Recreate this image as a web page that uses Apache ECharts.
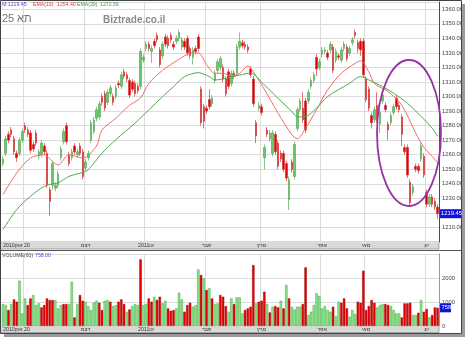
<!DOCTYPE html>
<html><head><meta charset="utf-8">
<script src="https://cdn.jsdelivr.net/npm/echarts@6/dist/echarts.min.js"></script>
<style>html,body{margin:0;padding:0;background:#fff}#c{width:467px;height:340px}</style>
</head><body><div id="c"></div>
<script>
// ---- data ----
// month tick labels: parts listed left to right as they appear on screen
const monthLabels = [['2010', 'אוק', ' 20'], ['נוב'], ['דצמ'], ['2011', 'ינו'], ['פבר'], ['מרץ'], ['אפר'], ['מאי'], ['יונ']];
const monthDays = [8, 22, 22, 22, 20, 22, 16, 22, 5];

const opens = [1254,1261,1274,1277,1271,1261,1261,1270,1280,1277,1275,1267,1275,1259,1260,1266,1261,1236,1239,1237,
1239,1258,1269,1280,1260,1258,1266,1260,1266,1262,1251,1258,1270,1276,1285,1286,1300,1302,1296,1302,
1300,1300,1309,1307,1317,1315,1311,1310,1309,1307,1307,1325,1333,1336,1331,1338,1342,1332,1328,1341,
1340,1342,1336,1338,1340,1334,1338,1340,1333,1327,1333,1341,1305,1293,1292,1298,1295,1311,1318,1320,
1320,1312,1317,1309,1316,1316,1334,1337,1336,1334,1319,1312,1282,1292,1293,1258,1277,1271,1261,1274,
1268,1261,1261,1254,1229,1255,1245,1278,1291,1292,1297,1297,1307,1311,1327,1320,1329,1331,1330,1332,
1334,1325,1328,1325,1333,1334,1330,1337,1344,1337,1338,1338,1312,1305,1287,1284,1294,1281,1297,1294,
1281,1282,1289,1299,1294,1286,1265,1265,1241,1234,1252,1252,1257,1259,1234,1226,1231,1228,1224];
const closes = [1257,1271,1270,1274,1262,1258,1270,1276,1277,1274,1263,1264,1268,1262,1268,1262,1239,1228,1254,1239,
1247,1264,1276,1269,1254,1262,1262,1262,1261,1245,1255,1261,1282,1284,1291,1295,1296,1292,1303,1306,
1296,1306,1308,1315,1314,1312,1301,1305,1302,1304,1331,1327,1336,1333,1333,1335,1339,1322,1336,1336,
1335,1339,1334,1340,1344,1339,1334,1330,1328,1332,1331,1333,1282,1283,1290,1293,1299,1316,1324,1326,
1312,1302,1307,1316,1314,1334,1338,1335,1334,1332,1315,1295,1273,1294,1289,1265,1274,1275,1275,1262,
1252,1257,1250,1244,1243,1250,1267,1291,1297,1284,1277,1303,1311,1315,1319,1324,1332,1332,1327,1336,
1318,1331,1327,1332,1336,1326,1333,1339,1342,1333,1332,1315,1298,1292,1282,1291,1284,1289,1301,1291,
1277,1287,1293,1293,1291,1274,1262,1246,1227,1238,1250,1249,1266,1246,1226,1231,1226,1224,1219.45];
const highs = [1259,1273,1276,1279,1273,1263,1272,1278,1282,1279,1277,1269,1277,1264,1270,1268,1263,1238,1256,1241,
1249,1266,1278,1282,1262,1264,1268,1264,1268,1264,1257,1263,1284,1286,1293,1297,1302,1304,1305,1308,
1302,1308,1311,1317,1319,1317,1313,1312,1311,1309,1333,1329,1338,1338,1335,1340,1344,1334,1338,1343,
1342,1344,1338,1342,1346,1341,1340,1342,1335,1334,1335,1343,1307,1295,1294,1305,1301,1318,1326,1328,
1322,1314,1319,1318,1318,1336,1344,1339,1338,1336,1321,1314,1284,1296,1295,1267,1279,1277,1277,1276,
1270,1263,1263,1256,1245,1257,1269,1293,1299,1303,1299,1305,1313,1317,1329,1326,1334,1334,1332,1338,
1336,1333,1330,1334,1338,1336,1335,1341,1346,1339,1340,1340,1314,1307,1289,1293,1303,1291,1303,1296,
1283,1289,1295,1301,1296,1288,1267,1267,1243,1240,1254,1254,1268,1261,1236,1233,1233,1230,1226];
const lows = [1252,1259,1268,1272,1260,1255,1259,1268,1275,1272,1261,1262,1266,1257,1258,1260,1237,1218,1236,1235,
1237,1256,1267,1267,1252,1256,1260,1258,1259,1243,1249,1256,1268,1274,1283,1284,1294,1290,1294,1300,
1294,1298,1306,1305,1312,1310,1299,1303,1300,1302,1305,1323,1331,1331,1323,1333,1337,1320,1326,1334,
1333,1337,1332,1336,1338,1332,1332,1328,1326,1322,1329,1331,1280,1278,1288,1291,1293,1309,1316,1318,
1310,1300,1305,1307,1312,1314,1332,1333,1332,1330,1313,1293,1268,1290,1287,1250,1272,1269,1259,1260,
1250,1255,1248,1242,1222,1248,1243,1276,1289,1282,1275,1295,1305,1309,1314,1318,1327,1329,1325,1330,
1316,1323,1325,1323,1331,1324,1328,1335,1340,1330,1328,1313,1296,1290,1278,1282,1282,1275,1295,1289,
1270,1280,1287,1291,1289,1266,1260,1244,1225,1232,1248,1247,1255,1244,1224,1224,1224,1222,1216];

const volumes = [914,873,664,914,1109,1012,1887,525,1150,873,1150,1290,873,942,775,873,1150,1081,1081,
1081,734,873,914,914,914,1846,358,914,1290,1053,1012,831,664,970,1053,970,664,1053,1081,1012,831,873,1012,1109,914,
595,692,831,914,873,2777,873,914,1150,1012,1220,1081,1220,942,1053,734,636,664,734,1387,1109,595,873,970,803,873,
2360,2124,1985,1498,1568,1150,914,942,1290,1220,831,594,1150,914,1192,1192,
525,664,734,803,2540,942,1012,1053,1429,914,567,803,831,775,1053,734,1707,1150,803,692,803,803,914,2443,
456,595,873,1359,1248,734,831,664,595,803,414,1012,970,1150,734,386,664,497,1012,970,2304,664,831,1081,970,
775,873,914,914,873,831,664,525,525,358,942,942,970,456,456,553,1081,595,706,358,456,775,758];
const volumeSide = ('GGRGRRGGGRRGGGRRRRR' + 'GGGRRGGRGRRGGGGGRRGGRGGRRR' +
  'GRGGGRGGRRGRRGGRRRGGGRRRGGGRGRGRGGRRRGGRGG' +
  'GRRRRGRRRG' + 'RGRRGRGRGG' + 'GGRRGGGGGG' + 'GGGRGGRRRG' + 'GGRRRRRRRG' + 'GGRRGGGGRR' + 'RRGGRGRRGR' + 'RR').split('');

const ema19Idx = [0,5,10,15,18,20,24,29,34,36,41,46,50,53,58,64,68,71,74,77,80,83,86,89,91,95,100,105,107,110,114,118,123,128,130,133,135,140,145,150,153,156,158];
const ema19 = [1232.6,1247.5,1257.7,1260,1255.4,1253,1260,1257.7,1266,1277,1285,1294,1299,1309,1318,1325.6,1329.7,1330,1322,1316,1316,1314,1316,1321,1317,1305,1288.6,1273.7,1271,1278.3,1291,1304.6,1316,1322.8,1324.6,1317,1309,1303.4,1294,1275,1265,1259,1254.40];
const ema39Idx = [0,5,10,15,18,20,24,29,31,36,41,48,53,58,62,66,71,75,77,81,86,90,95,100,105,107,110,114,118,126,130,133,138,142,147,152,156,158];
const ema39 = [1208.6,1222.3,1231.5,1238.3,1240,1240.6,1245.1,1247.9,1249.7,1261.1,1270.3,1281.7,1290.8,1299.9,1306.8,1313.7,1316.4,1313.7,1311.4,1312.5,1314.8,1316,1308,1298.8,1289.7,1286,1286.3,1292,1300,1309.1,1313.7,1311.4,1306.8,1302.3,1295.4,1286.3,1278.3,1272.59];
const indexNumber = '25', indexWord = 'תא';

// ---- derived ----
const categories = [], labelAt = [];
monthLabels.forEach((parts, m) => {
  for (let d = 0; d < monthDays[m]; d++) { categories.push(m + '-' + d); labelAt.push(d === 0 ? parts : null); }
});
const isStart = i => labelAt[i] !== null;
const showLabel = i => isStart(i) && (i === 0 || i >= 12);   // the first long label covers the next tick
const N = opens.length;
const lastClose = closes[N - 1], lastVol = volumes[N - 1];
const FONT = 'Liberation Sans, DejaVu Sans, sans-serif';
// each part is its own rich-text token, so parts keep their left-to-right order
const tokens = (parts, key) => parts.map(p => '{' + key + '|' + p + '}').join('');

function xAxis(gi) {
  return {
    type: 'category', gridIndex: gi, data: categories, boundaryGap: true,
    axisLine: { show: false }, axisTick: { show: false },
    axisLabel: { interval: (i) => showLabel(i), formatter: (v, i) => labelAt[i] ? tokens(labelAt[i], 'a') : '',
      margin: 1.5, alignMinLabel: 'left',
      rich: { a: { fontSize: 5.3, color: '#333', fontFamily: FONT } } },
    splitLine: { show: true, interval: (i) => isStart(i) && i > 0, lineStyle: { color: '#dcdcdc', width: 1 } }
  };
}

const option = {
  animation: false,
  backgroundColor: '#ffffff',
  grid: [
    { left: 0, right: 28, top: 2, height: 240 },
    { left: 0, right: 28, top: 254, height: 72 }
  ],
  xAxis: [xAxis(0), xAxis(1)],
  yAxis: [
    { type: 'value', gridIndex: 0, position: 'right', min: 1200, max: 1365, interval: 10,
      axisLine: { show: true, lineStyle: { color: '#ff0000', width: 1 } }, axisTick: { show: false },
      axisLabel: { fontSize: 5.8, color: '#444', margin: 3, fontFamily: FONT, formatter: v => v.toFixed(2), showMinLabel: false, showMaxLabel: false },
      splitLine: { lineStyle: { color: '#dcdcdc', width: 1 } } },
    { type: 'value', gridIndex: 1, position: 'right', min: 0, max: 3000, interval: 1000,
      axisLine: { show: true, lineStyle: { color: '#999', width: 1 } }, axisTick: { show: false },
      axisLabel: { fontSize: 5.8, color: '#444', margin: 3, fontFamily: FONT, showMaxLabel: false, formatter: v => String(v) },
      splitLine: { lineStyle: { color: '#dcdcdc', width: 1 } } }
  ],
  series: [
    { type: 'candlestick', xAxisIndex: 0, yAxisIndex: 0, barWidth: 2,
      data: opens.map((o, i) => [o, closes[i], lows[i], highs[i]]),
      itemStyle: { color: '#66cc66', color0: '#e00000', borderColor: '#5aa85a', borderColor0: '#d23a3a', borderWidth: 0.7 } },
    { type: 'line', xAxisIndex: 0, yAxisIndex: 0, symbol: 'none', smooth: 0.3,
      data: ema19Idx.map((x, i) => [x, ema19[i]]), lineStyle: { color: '#f26b6b', width: 1 }, z: 3 },
    { type: 'line', xAxisIndex: 0, yAxisIndex: 0, symbol: 'none', smooth: 0.3,
      data: ema39Idx.map((x, i) => [x, ema39[i]]), lineStyle: { color: '#4fa84f', width: 1 }, z: 3 },
    { type: 'bar', xAxisIndex: 1, yAxisIndex: 1, barCategoryGap: '14%',
      data: volumes.map((v, i) => ({ value: v, itemStyle: volumeSide[i] === 'G'
        ? { color: '#8ee88e', borderColor: '#3aa53a', borderWidth: 0.5 }
        : { color: '#ee0000', borderColor: '#a00000', borderWidth: 0.5 } })) }
  ]
};

const chart = echarts.init(document.getElementById('c'), null, { renderer: 'canvas' });
chart.setOption(option);

const yLast = chart.convertToPixel({ yAxisIndex: 0 }, lastClose);
const yVol = chart.convertToPixel({ yAxisIndex: 1 }, lastVol);
const t = (x, y, text, fill, size, weight) => ({ type: 'text', x, y, z: 30, silent: true,
  style: { text, fill, font: (weight || 'normal') + ' ' + size + 'px ' + FONT, textVerticalAlign: 'middle' } });

chart.setOption({
  graphic: [
    { type: 'rect', z: -1, silent: true, shape: { x: 0, y: 242, width: 439, height: 7 }, style: { fill: '#d9d9d9', stroke: '#777', lineWidth: 0.6 } },
    { type: 'rect', z: -1, silent: true, shape: { x: 0, y: 326.5, width: 439, height: 6 }, style: { fill: '#d9d9d9', stroke: '#777', lineWidth: 0.6 } },
    { type: 'line', z: 20, silent: true, shape: { x1: 0, y1: 250.5, x2: 461, y2: 250.5 }, style: { stroke: '#555', lineWidth: 1 } },
    { type: 'rect', z: 20, silent: true, shape: { x: 462, y: 4, width: 3, height: 333 }, style: { fill: '#9a9a9a' } },
    { type: 'rect', z: 20, silent: true, shape: { x: 4, y: 334, width: 461, height: 3 }, style: { fill: '#9a9a9a' } },
    { type: 'rect', z: 21, silent: true, shape: { x: 0.5, y: 0.5, width: 461, height: 333 }, style: { fill: 'none', stroke: '#444', lineWidth: 1 } },
    t(2, 5, 'M:' + lastClose.toFixed(2), '#4a4ad8', 5.2),
    t(33, 5, 'EMA(19)', '#e03a3a', 5.2),
    t(57, 5, ema19[ema19.length - 1].toFixed(2), '#e03a3a', 5.2),
    t(77, 5, 'EMA(39)', '#3b9a3b', 5.2),
    t(100, 5, ema39[ema39.length - 1].toFixed(2), '#3b9a3b', 5.2),
    t(2, 19, indexNumber, '#707070', 11),
    t(17, 19, indexWord, '#707070', 11),
    t(103, 20, 'Biztrade.co.il', '#8a8a8a', 10, 'bold'),
    t(2, 256, 'VOLUME(60)', '#444', 5.2),
    t(35, 256, lastVol.toFixed(2), '#4a4ad8', 5.2),
    { type: 'rect', z: 25, silent: true, shape: { x: 440, y: yLast - 4.5, width: 21, height: 9 }, style: { fill: '#1010e0' } },
    t(441, yLast, lastClose.toFixed(2), '#ffffff', 5.8),
    { type: 'rect', z: 25, silent: true, shape: { x: 440, y: yVol - 4.5, width: 11, height: 9 }, style: { fill: '#1010e0' } },
    t(441.5, yVol, String(lastVol), '#ffffff', 5.8),
    { type: 'ellipse', z: 26, silent: true, shape: { cx: 409, cy: 133, rx: 32, ry: 73 }, style: { fill: 'none', stroke: '#9932a8', lineWidth: 1.8 } }
  ]
});
</script></body></html>
